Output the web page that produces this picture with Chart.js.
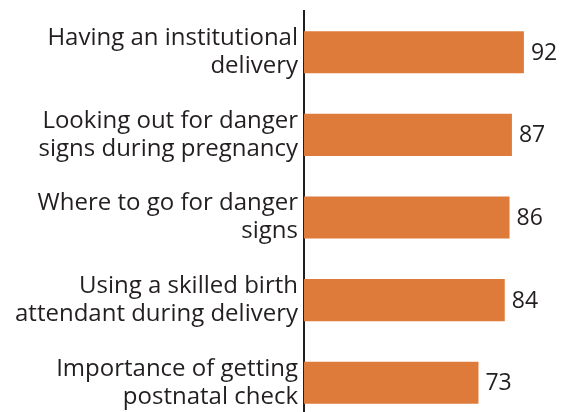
<!DOCTYPE html>
<html>
<head>
<meta charset="utf-8">
<script src="https://cdn.jsdelivr.net/npm/chart.js@4.4.1/dist/chart.umd.min.js"></script>
<style>
  html, body { margin: 0; padding: 0; background: #fff; overflow: hidden; }
</style>
</head>
<body>
<canvas id="chart" width="561" height="425"></canvas>
<script>
// categories (multi-line labels) and values
var categories = [
  ['Having an institutional', 'delivery'],
  ['Looking out for danger', 'signs during pregnancy'],
  ['Where to go for danger', 'signs'],
  ['Using a skilled birth', 'attendant during delivery'],
  ['Importance of getting', 'postnatal check']
];
var values = [92, 87, 86, 84, 73];

var barColor = '#de7b3a';
var textColor = '#231f20';
var fontFamily = '"Open Sans", "Noto Sans", sans-serif';

// value labels at the end of each bar
var valueLabels = {
  id: 'valueLabels',
  afterDatasetsDraw: function(chart) {
    var ctx = chart.ctx;
    var meta = chart.getDatasetMeta(0);
    ctx.save();
    ctx.fillStyle = textColor;
    ctx.font = '23px ' + fontFamily;
    ctx.textAlign = 'left';
    ctx.textBaseline = 'middle';
    meta.data.forEach(function(bar, i) {
      ctx.fillText(String(values[i]), bar.x + 7, bar.y + 1);
    });
    ctx.restore();
  }
};

new Chart(document.getElementById('chart'), {
  type: 'bar',
  data: {
    labels: categories,
    datasets: [{
      data: values,
      backgroundColor: barColor,
      borderWidth: 0,
      categoryPercentage: 1,
      barPercentage: 0.51
    }]
  },
  options: {
    indexAxis: 'y',
    responsive: false,
    animation: false,
    layout: { padding: { top: 11, right: 18, bottom: 1, left: 0 } },
    plugins: { legend: { display: false }, tooltip: { enabled: false } },
    scales: {
      x: {
        display: false,
        min: 0,
        max: 100
      },
      y: {
        grid: { display: false, drawTicks: false },
        border: { display: true, color: textColor, width: 2 },
        afterFit: function(scale) {
          scale.width = 304;
          scale.paddingTop = 0;
          scale.paddingBottom = 0;
        },
        ticks: {
          color: textColor,
          padding: 6,
          font: { family: fontFamily, size: 24, lineHeight: 1.17 }
        }
      }
    }
  },
  plugins: [valueLabels]
});
</script>
</body>
</html>
